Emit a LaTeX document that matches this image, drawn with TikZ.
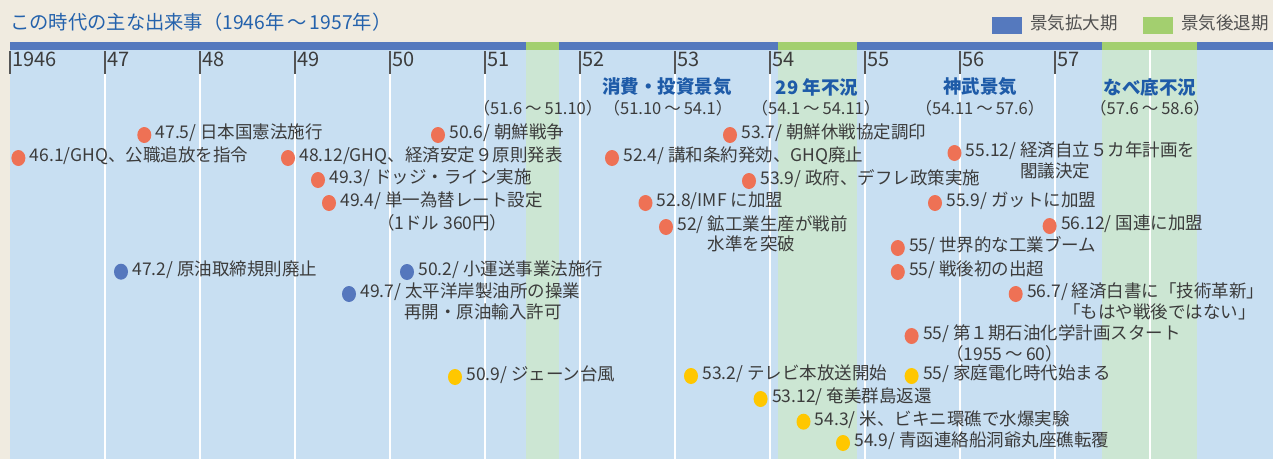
\documentclass[tikz,border=0pt]{standalone}
\usepackage{fontspec}
\setmainfont{Noto Sans CJK JP}
\usetikzlibrary{shapes.geometric}
\definecolor{bgbeige}{HTML}{F0EBE0}
\definecolor{areablue}{HTML}{C8DFF2}
\definecolor{areagreen}{HTML}{CCE6D3}
\definecolor{stripblue}{HTML}{5579BE}
\definecolor{stripgreen}{HTML}{A3CF6F}
\definecolor{titleblue}{HTML}{2462AC}
\definecolor{headblue}{HTML}{1E5BA8}
\definecolor{txtgray}{HTML}{3C3C3C}
\definecolor{leggray}{HTML}{505050}
\definecolor{tickgray}{HTML}{555555}
\definecolor{dotorange}{HTML}{EE7155}
\definecolor{dotblue}{HTML}{5577BD}
\definecolor{dotyellow}{HTML}{FFC700}
\newcommand\evt[5]{%
  \node[#4] (#1) at (#2,#3) {};
  \node[txt] (#1t) at ([xshift=4pt]#1.east) {#5};}
\newcommand\tsp{\hspace{3pt}}
\begin{document}
\begin{tikzpicture}[x=1pt,y=-1pt,
  txt/.style={font=\fontsize{17.5}{20}\selectfont, text=txtgray, inner sep=0pt, anchor=west, text height=0.88em, text depth=0.12em},
  rng/.style={font=\fontsize{16.5}{19}\selectfont, text=txtgray, inner sep=0pt},
  head/.style={font=\fontsize{18.5}{21}\selectfont\bfseries, text=headblue, inner sep=0pt},
  yr/.style={font=\fontsize{20}{22}\selectfont, text=txtgray, inner sep=0pt, anchor=west, text height=0.88em, text depth=0.12em},
  legtxt/.style={anchor=west, inner sep=0pt, text=leggray, font=\fontsize{17.5}{20}\selectfont, text height=0.88em, text depth=0.12em},
  dotbase/.style={ellipse, minimum width=14pt, minimum height=16pt, inner sep=0pt, draw=none},
  odot/.style={dotbase, fill=dotorange},
  bdot/.style={dotbase, fill=dotblue},
  ydot/.style={dotbase, fill=dotyellow},
  gridline/.style={white, line width=1.6pt},
  tickline/.style={tickgray, line width=1.4pt}]
% background
\fill[bgbeige] (0,0) rectangle (1273,459);
\useasboundingbox (0,0) rectangle (1273,459);
\fill[areablue] (10,50) rectangle (1273,459);
\fill[areagreen] (526,50) rectangle (559,459);
\fill[areagreen] (778,50) rectangle (857,459);
\fill[areagreen] (1102,50) rectangle (1197,459);
% strip
\fill[stripblue] (10,42) rectangle (1273,50);
\fill[stripgreen] (526,42) rectangle (559,50);
\fill[stripgreen] (778,42) rectangle (857,50);
\fill[stripgreen] (1102,42) rectangle (1197,50);
% title and legend
\node[anchor=west, inner sep=0pt, text=titleblue, font=\fontsize{19.3}{22}\selectfont, text height=0.88em, text depth=0.12em] (title) at (10,26) {この時代の主な出来事（1946年\tsp～\tsp1957年）};
\fill[stripblue] (992,17) rectangle (1022,34);
\node[legtxt] (legA) at (1030,25.5) {景気拡大期};
\fill[stripgreen] (1143,17) rectangle (1173,34);
\node[legtxt] (legB) at (1181,25.5) {景気後退期};
% grid and year ticks
\foreach \k/\lab in {0/1946,1/47,2/48,3/49,4/50,5/51,6/52,7/53,8/54,9/55,10/56,11/57}{
  \pgfmathsetmacro\xx{10+95*\k}
  \ifnum\k>0 \draw[gridline] (\xx,74) -- (\xx,459); \fi
  \draw[tickline] (\xx,51) -- (\xx,74);
  \node[yr] (yr\k) at (\xx+2,62.5) {\lab};
}
\draw[gridline] (1150,50) -- (1150,459);
% period headings
\node[head] (h1) at (667,87) {消費・投資景気};
\node[head] (h2) at (817,87) {29 年不況};
\node[head] (h3) at (980,87) {神武景気};
\node[head] (h4) at (1150,87) {なべ底不況};
\node[rng] (r0) at (538,108) {（51.6\tsp～\tsp51.10）};
\node[rng] (r1) at (668,108) {（51.10\tsp～\tsp54.1）};
\node[rng] (r2) at (816,108) {（54.1\tsp～\tsp54.11）};
\node[rng] (r3) at (980,108) {（54.11\tsp～\tsp57.6）};
\node[rng] (r4) at (1150,108) {（57.6\tsp～\tsp58.6）};
% orange events
\evt{o1}{144.3}{135}{odot}{47.5/ 日本国憲法施行}
\evt{o2}{438}{135}{odot}{50.6/ 朝鮮戦争}
\evt{o3}{730}{135}{odot}{53.7/ 朝鮮休戦協定調印}
\evt{o4}{18.4}{158}{odot}{46.1/GHQ、公職追放を指令}
\evt{o5}{288}{158}{odot}{48.12/GHQ、経済安定９原則発表}
\evt{o6}{612}{158}{odot}{52.4/ 講和条約発効、GHQ廃止}
\evt{o7}{954.5}{153}{odot}{55.12/ 経済自立５カ年計画を}
\node[txt] (o7b) at (1020,174) {閣議決定};
\evt{o8}{318}{180}{odot}{49.3/ ドッジ・ライン実施}
\evt{o9}{749}{181}{odot}{53.9/ 政府、デフレ政策実施}
\evt{o10}{329}{203}{odot}{49.4/ 単一為替レート設定}
\node[txt] (o10b) at (377,226) {（1ドル 360円）};
\evt{o11}{645.5}{203}{odot}{52.8/IMF に加盟}
\evt{o12}{935}{203}{odot}{55.9/ ガットに加盟}
\evt{o13}{666}{227}{odot}{52/ 鉱工業生産が戦前}
\node[txt] (o13b) at (707.6,247) {水準を突破};
\evt{o14}{1049.6}{226}{odot}{56.12/ 国連に加盟}
\evt{o15}{897.8}{248}{odot}{55/ 世界的な工業ブーム}
\evt{o16}{897.8}{272}{odot}{55/ 戦後初の出超}
\evt{o17}{1015.7}{294}{odot}{56.7/ 経済白書に「技術革新」}
\node[txt] (o17b) at (1063,315) {「もはや戦後ではない」};
\evt{o18}{911.6}{336}{odot}{55/ 第１期石油化学計画スタート}
\node[txt] (o18b) at (946,357) {（1955\tsp～\tsp60）};
% blue events
\evt{b1}{121}{271.7}{bdot}{47.2/ 原油取締規則廃止}
\evt{b2}{407}{272}{bdot}{50.2/ 小運送事業法施行}
\evt{b3}{349}{294}{bdot}{49.7/ 太平洋岸製油所の操業}
\node[txt] (b3b) at (404,315) {再開・原油輸入許可};
% yellow events
\evt{y1}{455}{377}{ydot}{50.9/ ジェーン台風}
\evt{y2}{691}{376}{ydot}{53.2/ テレビ本放送開始}
\evt{y3}{911.6}{376}{ydot}{55/ 家庭電化時代始まる}
\evt{y4}{760.6}{399}{ydot}{53.12/ 奄美群島返還}
\evt{y5}{803.5}{421.7}{ydot}{54.3/ 米、ビキニ環礁で水爆実験}
\evt{y6}{843}{443}{ydot}{54.9/ 青函連絡船洞爺丸座礁転覆}
\end{tikzpicture}
\end{document}
